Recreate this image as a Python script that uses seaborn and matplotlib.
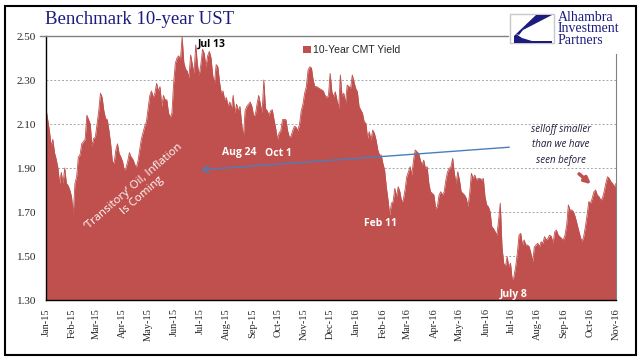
import matplotlib
matplotlib.use('Agg')
import matplotlib.pyplot as plt
import matplotlib.dates as mdates
from matplotlib.patches import Rectangle, Polygon
from matplotlib.lines import Line2D
import seaborn as sns
import pandas as pd
import numpy as np


# 10-year CMT yield, every second day from 2015-01-01
yield_10y = [
    2.17, 2.12, 2.07, 2.00, 2.03, 1.97, 1.94, 1.90, 1.83, 1.88,
    1.83, 1.90, 1.83, 1.82, 1.80, 1.77, 1.69, 1.83, 1.86, 1.95,
    1.96, 2.01, 2.02, 2.03, 2.14, 2.12, 2.10, 2.00, 2.035, 2.04,
    2.10, 2.16, 2.24, 2.22, 2.16, 2.125, 2.12, 2.07, 2.01, 1.93,
    1.92, 1.98, 2.01, 1.965, 1.95, 1.93, 1.89, 1.90, 1.93, 1.97,
    1.95, 1.94, 1.92, 1.90, 1.93, 1.98, 2.03, 2.06, 2.09, 2.11,
    2.17, 2.23, 2.25, 2.22, 2.24, 2.285, 2.25, 2.27, 2.18, 2.23,
    2.21, 2.21, 2.15, 2.13, 2.15, 2.285, 2.376, 2.40, 2.41, 2.39,
    2.497, 2.38, 2.35, 2.34, 2.31, 2.414, 2.37, 2.33, 2.46, 2.37,
    2.32, 2.37, 2.44, 2.42, 2.36, 2.41, 2.43, 2.40, 2.32, 2.285,
    2.37, 2.36, 2.29, 2.24, 2.25, 2.21, 2.22, 2.18, 2.20, 2.17,
    2.23, 2.15, 2.19, 2.16, 2.18, 2.10, 2.04, 2.16, 2.18, 2.19,
    2.20, 2.18, 2.14, 2.14, 2.19, 2.23, 2.19, 2.15, 2.30, 2.17,
    2.16, 2.14, 2.16, 2.165, 2.12, 2.08, 2.03, 2.06, 2.07, 2.12,
    2.12, 2.12, 2.07, 2.04, 2.045, 2.07, 2.09, 2.085, 2.07, 2.10,
    2.16, 2.19, 2.24, 2.27, 2.345, 2.36, 2.355, 2.30, 2.27, 2.27,
    2.265, 2.26, 2.255, 2.25, 2.23, 2.22, 2.23, 2.33, 2.247, 2.224,
    2.247, 2.209, 2.171, 2.323, 2.224, 2.24, 2.194, 2.277, 2.27, 2.262,
    2.323, 2.292, 2.262, 2.247, 2.179, 2.164, 2.149, 2.11, 2.103, 2.035,
    2.065, 2.027, 2.073, 2.058, 2.027, 1.982, 1.959, 1.959, 1.921, 1.891,
    1.815, 1.755, 1.686, 1.74, 1.747, 1.807, 1.77, 1.815, 1.792, 1.747,
    1.755, 1.80, 1.86, 1.883, 1.906, 1.868, 1.936, 1.982, 1.974, 1.967,
    1.936, 1.914, 1.936, 1.898, 1.906, 1.83, 1.792, 1.785, 1.777, 1.717,
    1.724, 1.777, 1.792, 1.777, 1.792, 1.845, 1.883, 1.898, 1.906, 1.944,
    1.876, 1.83, 1.883, 1.845, 1.792, 1.785, 1.777, 1.762, 1.724, 1.785,
    1.876, 1.853, 1.868, 1.845, 1.853, 1.853, 1.845, 1.853, 1.77, 1.732,
    1.724, 1.701, 1.633, 1.625, 1.61, 1.595, 1.664, 1.74, 1.542, 1.467,
    1.451, 1.497, 1.451, 1.467, 1.391, 1.406, 1.451, 1.512, 1.595, 1.603,
    1.55, 1.573, 1.55, 1.55, 1.542, 1.512, 1.474, 1.542, 1.55, 1.558,
    1.542, 1.565, 1.558, 1.588, 1.573, 1.58, 1.595, 1.588, 1.558, 1.61,
    1.618, 1.595, 1.588, 1.58, 1.573, 1.595, 1.64, 1.732, 1.709, 1.709,
    1.701, 1.679, 1.649, 1.618, 1.588, 1.565, 1.588, 1.633, 1.686, 1.747,
    1.74, 1.762, 1.792, 1.80, 1.777, 1.77, 1.755, 1.762, 1.792, 1.83,
    1.86, 1.853, 1.838, 1.83, 1.815, 1.83,
]
start_date = '2015-01-01'
y_ticks = [1.30, 1.50, 1.70, 1.90, 2.10, 2.30, 2.50]
series_name = '10-Year CMT Yield'

df = pd.DataFrame({
    'date': pd.date_range(start_date, periods=len(yield_10y), freq='2D'),
    'yield': yield_10y,
})

red = '#c0504d'
navy = '#1c1c80'
W, H = 644, 361

sns.set_style('white')
plt.rcParams['font.family'] = ['Liberation Serif', 'DejaVu Serif']

fig = plt.figure(figsize=(W / 100, H / 100), dpi=100)
ax = fig.add_axes([46 / W, 1 - 300 / H, 570 / W, 264 / H])


def fp(x, y):
    # pixel position (from top-left) -> figure fraction
    return x / W, 1 - y / H


sns.lineplot(data=df, x='date', y='yield', ax=ax, color=red, lw=0.6)
ax.fill_between(df['date'], 1.0, df['yield'], color=red, lw=0, label=series_name)

ax.set_xlim(pd.Timestamp('2015-01-01'), pd.Timestamp('2016-11-01'))
ax.set_ylim(1.30, 2.50)
ax.set_yticks(y_ticks)
ax.yaxis.set_major_formatter(matplotlib.ticker.FormatStrFormatter('%.2f'))
ax.xaxis.set_major_locator(mdates.MonthLocator())
ax.xaxis.set_major_formatter(mdates.DateFormatter('%b-%y'))
ax.set_xlabel('')
ax.set_ylabel('')
plt.setp(ax.get_xticklabels(), rotation=90, fontsize=7.5)
plt.setp(ax.get_yticklabels(), fontsize=8)
ax.tick_params(axis='both', direction='out', length=4, width=0.8, color='black', pad=2)
ax.tick_params(axis='y', pad=3)

for g in [1.50, 1.70, 1.90, 2.10, 2.30]:
    ax.axhline(g, color='#a6a6a6', lw=0.7, ls=(0, (2, 2)), zorder=0)
ax.set_axisbelow(True)
for c in ax.collections + ax.lines:
    if c.get_zorder() > 0:
        c.set_zorder(2)

ax.spines['top'].set_visible(False)
ax.spines['left'].set_color('black')
ax.spines['bottom'].set_color('black')
ax.spines['right'].set_color('#808080')
ax.spines['right'].set_bounds(1.30, 2.418)
ax.spines['left'].set_linewidth(1.0)
ax.spines['bottom'].set_linewidth(1.0)

# title line across the top
fig.add_artist(Line2D([40 / W, 508 / W], [1 - 36 / H, 1 - 36 / H], color='#808080', lw=1))

# outer frame
fig.add_artist(Rectangle(fp(5, 355), 631 / W, 349 / H, fill=False, ec='black', lw=1.5))

fig.text(*fp(45, 19), 'Benchmark 10-year UST', color=navy, fontsize=13.5, va='center', ha='left')

# logo
fig.add_artist(Rectangle(fp(510, 43), 44 / W, 29 / H, fill=True, fc='white', ec='#c8c8c8', lw=1))
fig.add_artist(Polygon([fp(536, 15), fp(552, 15), fp(523, 30), fp(519, 35), fp(516, 34)],
                       closed=True, fc=navy, ec='none'))
fig.add_artist(Polygon([fp(516, 34), fp(522, 38), fp(532, 41), fp(552, 41), fp(552, 43),
                        fp(514, 43), fp(514, 36)], closed=True, fc=navy, ec='none'))
fig.text(*fp(558, 29), 'Alhambra\nInvestment\nPartners', color=navy, fontsize=10,
         va='center', ha='left', linespacing=0.85)

leg = ax.legend(loc='upper left', bbox_to_anchor=fp(298, 40), bbox_transform=fig.transFigure,
                frameon=False, handlelength=0.7, handleheight=0.7, handletextpad=0.2,
                borderpad=0, prop={'family': 'Liberation Sans', 'size': 7.5})

sans = ['Open Sans', 'DejaVu Sans']
fig.text(*fp(212, 44), 'Jul 13', family=sans, weight='bold', fontsize=7.5, color='black',
         ha='center', va='center')
fig.text(*fp(239, 153), 'Aug 24', family=sans, weight='bold', fontsize=7.5, color='white',
         ha='center', va='center')
fig.text(*fp(278, 154), 'Oct 1', family=sans, weight='bold', fontsize=7.5, color='white',
         ha='center', va='center')
fig.text(*fp(380, 223), 'Feb 11', family=sans, weight='bold', fontsize=7.5, color='white',
         ha='center', va='center')
fig.text(*fp(514, 294), 'July 8', family=sans, weight='bold', fontsize=7.5, color='white',
         ha='center', va='center')
fig.text(*fp(138, 191), '\u2018Transitory\u2019 Oil, Inflation\nIs Coming', family=sans,
         fontsize=8.2, color='white', ha='center', va='center', rotation=41,
         rotation_mode='anchor', multialignment='center', linespacing=1.1)
fig.text(*fp(561, 145), 'selloff smaller\nthan we have\nseen before', family=sans,
         style='italic', fontsize=7, color='#1a1a3a', ha='center', va='center', linespacing=1.55)

ax.annotate('', xy=(198, H - 170), xytext=(512, H - 147), xycoords='figure pixels',
            textcoords='figure pixels',
            arrowprops=dict(arrowstyle='->', color='#4a7ebb', lw=1, mutation_scale=12))
ax.annotate('', xy=(593, H - 186), xytext=(577, H - 172), xycoords='figure pixels',
            textcoords='figure pixels',
            arrowprops=dict(arrowstyle='-|>', color=red, lw=2.5, mutation_scale=9))

fig.savefig('out.png', dpi=100)
